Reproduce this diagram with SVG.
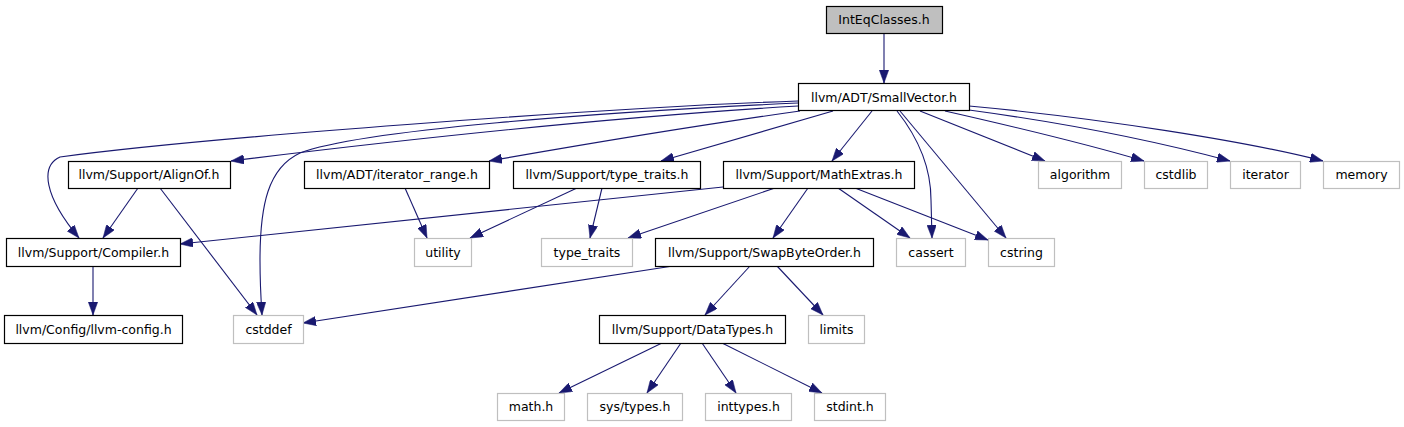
<svg xmlns="http://www.w3.org/2000/svg" width="1404" height="427" viewBox="0 0 1404 427">
<defs>
<marker id="arr" viewBox="0 0 13 9.4" refX="13" refY="4.7" markerWidth="13" markerHeight="9.4" markerUnits="userSpaceOnUse" orient="auto">
<path d="M0,0 L13,4.7 L0,9.4 z" fill="#191970" stroke="#191970" stroke-width="0.5"/>
</marker>
</defs>
<style>
.n rect{fill:#ffffff;stroke:#000000;stroke-width:1.2}
.x rect{fill:#ffffff;stroke:#bfbfbf;stroke-width:1.2}
.r rect{fill:#bfbfbf;stroke:#000000;stroke-width:1.2}
text{font-family:"DejaVu Sans","Liberation Sans",sans-serif;font-size:12.5px;fill:#000000;text-anchor:middle}
#edges path{fill:none;stroke:#191970;stroke-width:1.1;marker-end:url(#arr)}
</style>
<rect width="1404" height="427" fill="#ffffff"/>
<g id="edges">
<path d="M884,33 L884,83"/>
<path d="M798,101 C600,108 200,138 60,157 C40,166 44,196 79,238"/>
<path d="M798,103 C600,112 360,130 300,153 C268,168 260,205 260,260 C260,285 261,300 262,315"/>
<path d="M798,106 C600,118 400,140 231,161"/>
<path d="M800,111 C700,125 580,145 489,161"/>
<path d="M833,111 L661,161"/>
<path d="M872,111 L832,161"/>
<path d="M897,111 C920,140 931,170 931,200 L932,238"/>
<path d="M900,111 L1006,238"/>
<path d="M920,111 L1045,161"/>
<path d="M945,111 C1020,128 1100,148 1144,161"/>
<path d="M969,110 C1080,125 1170,145 1230,161"/>
<path d="M969,106 C1100,118 1250,142 1323,161"/>
<path d="M723,187 C500,210 300,230 180,244"/>
<path d="M775,188 L628,238"/>
<path d="M808,188 L773,238"/>
<path d="M838,188 L910,238"/>
<path d="M855,188 L988,240"/>
<path d="M138,188 L103,238"/>
<path d="M160,188 L257,315"/>
<path d="M405,188 L427,238"/>
<path d="M577,188 L470,238"/>
<path d="M602,188 L590,238"/>
<path d="M93,266 L93,315"/>
<path d="M673,266 L303,323"/>
<path d="M750,266 L705,315"/>
<path d="M777,266 L823,315"/>
<path d="M662,343 L559,393"/>
<path d="M681,343 L647,393"/>
<path d="M702,343 L736,393"/>
<path d="M722,343 L822,393"/>
</g>
<g id="IntEqClasses" class="r"><rect x="826.5" y="6.5" width="116" height="27"/><text x="884" y="24">IntEqClasses.h</text></g>
<g id="SmallVector" class="n"><rect x="798.5" y="83.5" width="171" height="27"/><text x="884" y="101.5">llvm/ADT/SmallVector.h</text></g>
<g id="AlignOf" class="n"><rect x="68.5" y="161.5" width="162" height="27"/><text x="149" y="179">llvm/Support/AlignOf.h</text></g>
<g id="iterator_range" class="n"><rect x="304.5" y="161.5" width="185" height="27"/><text x="397" y="179">llvm/ADT/iterator_range.h</text></g>
<g id="type_traits_h" class="n"><rect x="513.5" y="161.5" width="187" height="27"/><text x="607" y="179">llvm/Support/type_traits.h</text></g>
<g id="MathExtras" class="n"><rect x="723.5" y="161.5" width="191" height="27"/><text x="819" y="179">llvm/Support/MathExtras.h</text></g>
<g id="algorithm" class="x"><rect x="1038.5" y="161.5" width="83" height="27"/><text x="1080" y="179">algorithm</text></g>
<g id="cstdlib" class="x"><rect x="1144.5" y="161.5" width="63" height="27"/><text x="1176" y="179">cstdlib</text></g>
<g id="iterator" class="x"><rect x="1230.5" y="161.5" width="70" height="27"/><text x="1265.5" y="179">iterator</text></g>
<g id="memory" class="x"><rect x="1323.5" y="161.5" width="76" height="27"/><text x="1361.5" y="179">memory</text></g>
<g id="Compiler" class="n"><rect x="6.5" y="238.5" width="174" height="28"/><text x="93.5" y="256.5">llvm/Support/Compiler.h</text></g>
<g id="utility" class="x"><rect x="414.5" y="238.5" width="57" height="28"/><text x="443" y="256.5">utility</text></g>
<g id="type_traits" class="x"><rect x="541.5" y="238.5" width="91" height="28"/><text x="587" y="256.5">type_traits</text></g>
<g id="SwapByteOrder" class="n"><rect x="655.5" y="238.5" width="218" height="28"/><text x="764.5" y="256.5">llvm/Support/SwapByteOrder.h</text></g>
<g id="cassert" class="x"><rect x="896.5" y="238.5" width="69" height="28"/><text x="931" y="256.5">cassert</text></g>
<g id="cstring" class="x"><rect x="988.5" y="238.5" width="66" height="28"/><text x="1021.5" y="256.5">cstring</text></g>
<g id="llvm_config" class="n"><rect x="4.5" y="315.5" width="178" height="28"/><text x="93.5" y="333.5">llvm/Config/llvm-config.h</text></g>
<g id="cstddef" class="x"><rect x="233.5" y="315.5" width="70" height="28"/><text x="268.5" y="333.5">cstddef</text></g>
<g id="DataTypes" class="n"><rect x="599.5" y="315.5" width="186" height="28"/><text x="692.5" y="333.5">llvm/Support/DataTypes.h</text></g>
<g id="limits" class="x"><rect x="808.5" y="315.5" width="56" height="28"/><text x="836.5" y="333.5">limits</text></g>
<g id="math_h" class="x"><rect x="497.5" y="393.5" width="67" height="27"/><text x="531" y="411">math.h</text></g>
<g id="sys_types" class="x"><rect x="587.5" y="393.5" width="95" height="27"/><text x="635" y="411">sys/types.h</text></g>
<g id="inttypes" class="x"><rect x="705.5" y="393.5" width="86" height="27"/><text x="748.5" y="411">inttypes.h</text></g>
<g id="stdint" class="x"><rect x="814.5" y="393.5" width="71" height="27"/><text x="850" y="411">stdint.h</text></g>
</svg>
